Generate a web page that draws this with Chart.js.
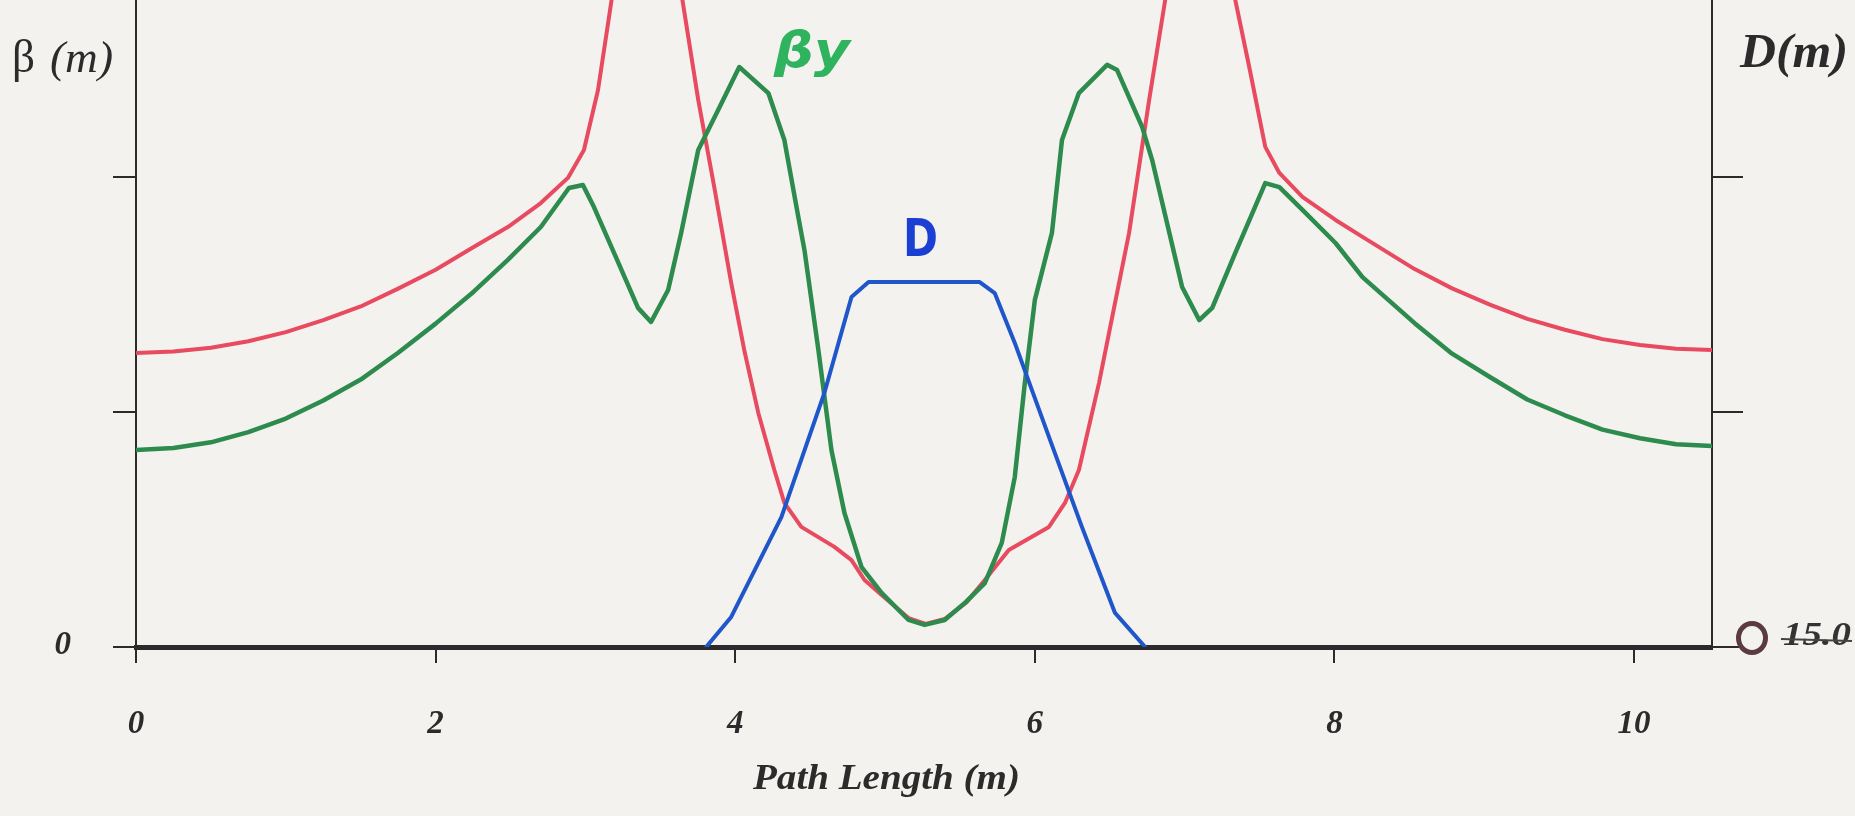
<!DOCTYPE html>
<html><head><meta charset="utf-8">
<script src="https://cdn.jsdelivr.net/npm/chart.js@4/dist/chart.umd.min.js"></script>
<style>html,body{margin:0;padding:0;background:#f4f2ef;overflow:hidden}canvas{display:block}</style>
</head><body>
<canvas id="c" width="1855" height="816"></canvas>
<script>
// Path length positions (m) and beta / dispersion values
const sBetaX = [0,0.25,0.5,0.75,1.0,1.25,1.5,1.75,2.0,2.254,2.482,2.702,2.883,2.99,3.084,3.405,3.753,3.86,3.973,4.06,4.154,4.261,4.328,4.441,4.662,4.776,4.863,4.977,5.157,5.271,5.398,5.545,5.666,5.826,6.094,6.201,6.294,6.428,6.495,6.629,6.763,6.87,7.084,7.338,7.431,7.538,7.632,7.786,8.007,8.187,8.535,8.785,9.037,9.287,9.538,9.789,10.04,10.28,10.52];
const betaX  = [12.51,12.57,12.73,13.01,13.40,13.91,14.49,15.25,16.05,17.02,17.87,18.89,19.96,21.15,23.70,37.3,23.28,19.57,15.49,12.64,9.96,7.53,6.13,5.11,4.26,3.70,2.85,2.21,1.23,0.98,1.19,1.91,2.85,4.13,5.11,6.13,7.53,11.23,13.36,17.62,23.28,27.53,36.9,27.53,24.68,21.28,20.17,19.15,18.17,17.45,16.08,15.26,14.57,13.96,13.50,13.10,12.85,12.69,12.64];

const sBetaY = [0,0.25,0.5,0.75,1.0,1.25,1.5,1.75,2.0,2.254,2.482,2.702,2.890,2.983,3.057,3.191,3.351,3.438,3.552,3.639,3.753,3.886,4.027,4.221,4.328,4.421,4.462,4.555,4.642,4.729,4.843,4.977,5.157,5.264,5.398,5.532,5.666,5.779,5.866,5.933,6.0,6.114,6.181,6.294,6.482,6.549,6.716,6.783,6.983,7.097,7.184,7.338,7.538,7.632,7.786,8.007,8.187,8.535,8.785,9.037,9.287,9.538,9.789,10.04,10.28,10.52];
const betaY  = [8.38,8.47,8.71,9.14,9.72,10.49,11.38,12.52,13.76,15.12,16.47,17.87,19.53,19.66,18.72,16.77,14.43,13.83,15.19,17.62,21.15,22.85,24.68,23.57,21.57,18.30,16.89,12.64,8.38,5.70,3.40,2.30,1.15,0.94,1.15,1.87,2.72,4.43,7.23,11.23,14.77,17.62,21.57,23.57,24.77,24.55,22.13,20.72,15.32,13.91,14.43,16.77,19.74,19.57,18.60,17.19,15.74,13.78,12.48,11.49,10.53,9.86,9.25,8.88,8.63,8.55];

const sDisp = [3.806,3.973,4.308,4.595,4.776,4.890,5.632,5.732,5.866,6.094,6.314,6.535,6.736];
const dispD = [0,0.128,0.553,1.081,1.489,1.553,1.553,1.506,1.294,0.894,0.511,0.145,0];

const xTicks = [0,2,4,6,8,10];
const betaTicks = [0,10,20];
const betaTickLabels = ['0', '', ''];
const dTicks = [0,1,2];
const xTitle = 'Path Length (m)';
const betaTitle = ['β', '(m)'];
const dTitle = 'D(m)';
const betaYNote = 'βy';
const dNote = 'D';
const rightNote = '15.0';

const INK = '#2b2b2b';
const SERIF = '"Liberation Serif", "DejaVu Serif", serif';

function fitText(ctx, text, font, x, y, w, color, align) {
  ctx.save();
  ctx.font = font;
  ctx.fillStyle = color;
  ctx.textAlign = 'left';
  ctx.textBaseline = 'middle';
  const m = ctx.measureText(text).width;
  const sx = w ? w / m : 1;
  const x0 = align === 'right' ? x - m * sx : x;
  ctx.translate(x0, y);
  ctx.scale(sx, 1);
  ctx.fillText(text, 0, 0);
  ctx.restore();
}

const bgPlugin = {
  id: 'bg',
  beforeDraw(chart) {
    const c = chart.ctx;
    c.save();
    c.fillStyle = '#f4f2ef';
    c.fillRect(0, 0, chart.width, chart.height);
    c.restore();
  }
};

const labelPlugin = {
  id: 'labels',
  afterDraw(chart) {
    const c = chart.ctx;
    const yS = chart.scales.y;
    // left axis tick labels (only the zero is labelled)
    betaTicks.forEach((v, i) => {
      if (betaTickLabels[i]) {
        fitText(c, betaTickLabels[i], 'italic bold 33px ' + SERIF, 71, yS.getPixelForValue(v) - 2, 0, INK, 'right');
      }
    });
    // left axis title
    fitText(c, betaTitle[0], '46px ' + SERIF, 12, 60, 23, INK);
    fitText(c, betaTitle[1], 'italic 44px ' + SERIF, 50, 60, 63, INK);
    // right axis title
    fitText(c, dTitle, 'italic bold 48px ' + SERIF, 1740, 55, 108, INK);
    // x axis title
    fitText(c, xTitle, 'italic bold 35px ' + SERIF, 753, 780, 267, INK);
    // handwritten notes
    fitText(c, betaYNote, 'italic bold 50px "DejaVu Sans", sans-serif', 774, 54, 76, '#2fb35f');
    fitText(c, dNote, 'bold 52px "DejaVu Sans", sans-serif', 903, 242, 35, '#1b3fd2');
    // circled mark at right zero
    c.save();
    c.strokeStyle = '#5a3b42';
    c.lineWidth = 5;
    c.beginPath();
    c.ellipse(1752, 638, 13.5, 14.5, 0, 0, Math.PI * 2);
    c.stroke();
    c.restore();
    fitText(c, rightNote, 'italic bold 34px ' + SERIF, 1783, 636, 68, '#333');
    c.save();
    c.strokeStyle = '#444';
    c.lineWidth = 2;
    c.beginPath();
    c.moveTo(1781, 639);
    c.lineTo(1852, 641);
    c.stroke();
    c.restore();
  }
};

new Chart(document.getElementById('c'), {
  type: 'line',
  data: {
    datasets: [
      { label: 'D', data: sDisp.map((s, i) => ({ x: s, y: dispD[i] })), yAxisID: 'yD',
        borderColor: '#1f56c9', borderWidth: 4, order: 1 },
      { label: 'βy', data: sBetaY.map((s, i) => ({ x: s, y: betaY[i] })), yAxisID: 'y',
        borderColor: '#2e8b4e', borderWidth: 4.5, order: 2 },
      { label: 'βx', data: sBetaX.map((s, i) => ({ x: s, y: betaX[i] })), yAxisID: 'y',
        borderColor: '#e84a5f', borderWidth: 4, order: 3 }
    ]
  },
  options: {
    responsive: false,
    animation: false,
    devicePixelRatio: 1,
    layout: { padding: 0, autoPadding: false },
    elements: {
      point: { radius: 0 },
      line: { tension: 0, borderJoinStyle: 'round', borderCapStyle: 'round', fill: false }
    },
    plugins: { legend: { display: false }, tooltip: { enabled: false } },
    scales: {
      x: {
        type: 'linear', position: 'bottom', min: 0, max: 10.52,
        afterBuildTicks: s => { s.ticks = xTicks.map(v => ({ value: v })); },
        afterFit: s => { s.height = 169; },
        border: { display: true, color: INK, width: 5 },
        grid: { drawOnChartArea: false, drawTicks: true, tickLength: 16, color: INK, lineWidth: 2 },
        ticks: { padding: 42, color: INK, font: { family: SERIF, size: 33, style: 'italic', weight: 'bold' } }
      },
      y: {
        type: 'linear', position: 'left', min: 0, max: 27.53,
        afterBuildTicks: s => { s.ticks = betaTicks.map(v => ({ value: v })); },
        afterFit: s => { s.width = 136; },
        border: { display: true, color: INK, width: 2 },
        grid: { drawOnChartArea: false, drawTicks: true, tickLength: 23, color: INK, lineWidth: 2 },
        ticks: { display: false }
      },
      yD: {
        type: 'linear', position: 'right', min: 0, max: 2.753,
        afterBuildTicks: s => { s.ticks = dTicks.map(v => ({ value: v })); },
        afterFit: s => { s.width = 143; },
        border: { display: true, color: INK, width: 2 },
        grid: { drawOnChartArea: false, drawTicks: true, tickLength: 31, color: INK, lineWidth: 2 },
        ticks: { display: false }
      }
    }
  },
  plugins: [bgPlugin, labelPlugin]
});
</script>
</body></html>
